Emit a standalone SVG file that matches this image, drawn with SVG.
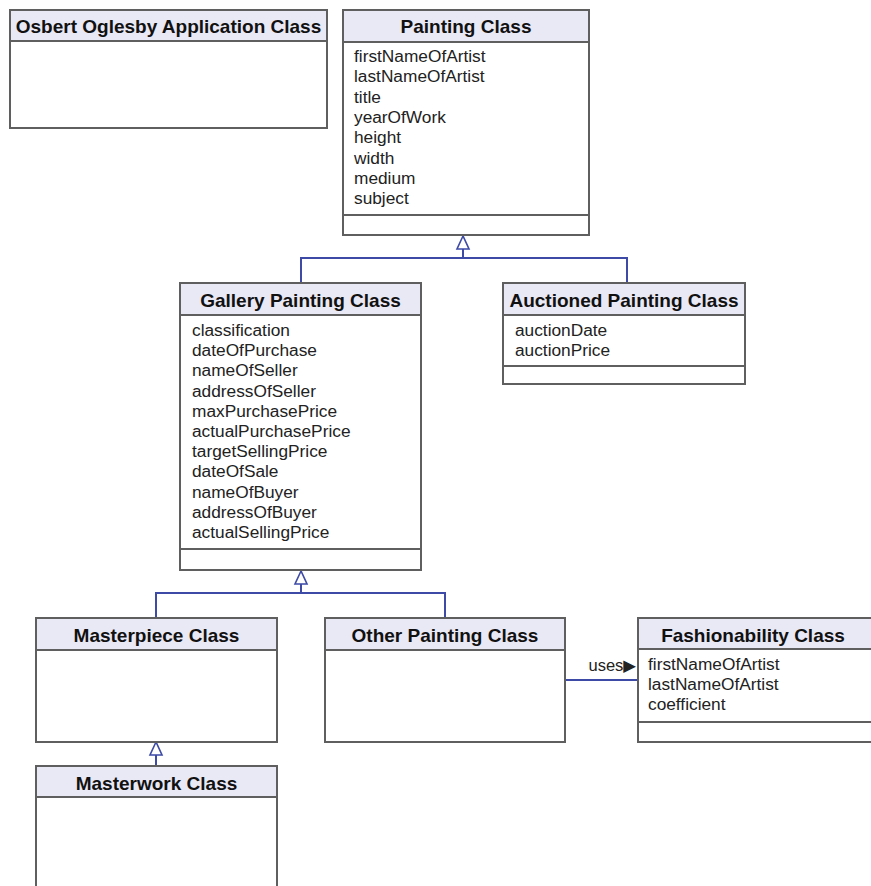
<svg xmlns="http://www.w3.org/2000/svg" width="871" height="886" viewBox="0 0 871 886">
<style>
.box{fill:#ffffff;stroke:#5f5f5f;stroke-width:2}
.hdr{fill:#e9e8f5;stroke:#5f5f5f;stroke-width:2}
.sep{stroke:#5f5f5f;stroke-width:2}
.title{font-family:"Liberation Sans",Arial,sans-serif;font-weight:bold;font-size:19px;fill:#111;text-anchor:middle}
.attr{font-family:"Liberation Sans",Arial,sans-serif;font-size:17.3px;fill:#222}
.conn{fill:none;stroke:#3d4aa6;stroke-width:2}
.tri{fill:#ffffff;stroke:#3d4aa6;stroke-width:1.6}
.lbl{font-family:"Liberation Sans","DejaVu Sans",sans-serif;font-size:16.5px;fill:#222;text-anchor:end}
</style>
<rect width="871" height="886" fill="#ffffff"/>

<g id="connectors">
  <polyline class="conn" points="301,283 301,258 627,258 627,283"/>
  <line class="conn" x1="463" y1="249" x2="463" y2="258"/>
  <polygon class="tri" points="463,236 457,249 469,249"/>
  <polyline class="conn" points="156,618 156,593 445,593 445,618"/>
  <line class="conn" x1="301" y1="584" x2="301" y2="593"/>
  <polygon class="tri" points="301,571 295,584 307,584"/>
  <line class="conn" x1="156" y1="755" x2="156" y2="766"/>
  <polygon class="tri" points="156,742 150,755 162,755"/>
  <line class="conn" x1="565" y1="680" x2="638" y2="680"/>
  <text class="lbl" x="636" y="671">uses▶</text>
</g>

<g id="osbert">
  <rect class="box" x="10" y="10" width="317" height="118"/>
  <rect class="hdr" x="10" y="10" width="317" height="31"/>
  <text class="title" x="168.5" y="33">Osbert Oglesby Application Class</text>
</g>

<g id="painting">
  <rect class="box" x="343" y="10" width="246" height="225"/>
  <rect class="hdr" x="343" y="10" width="246" height="32"/>
  <text class="title" x="466" y="33">Painting Class</text>
  <text class="attr" x="354" y="62">firstNameOfArtist</text>
  <text class="attr" x="354" y="82.3">lastNameOfArtist</text>
  <text class="attr" x="354" y="102.6">title</text>
  <text class="attr" x="354" y="122.9">yearOfWork</text>
  <text class="attr" x="354" y="143.2">height</text>
  <text class="attr" x="354" y="163.5">width</text>
  <text class="attr" x="354" y="183.8">medium</text>
  <text class="attr" x="354" y="204.1">subject</text>
  <line class="sep" x1="343" y1="215" x2="589" y2="215"/>
</g>

<g id="gallery">
  <rect class="box" x="180" y="283" width="241" height="287"/>
  <rect class="hdr" x="180" y="283" width="241" height="32"/>
  <text class="title" x="300.5" y="306.5">Gallery Painting Class</text>
  <text class="attr" x="192" y="336">classification</text>
  <text class="attr" x="192" y="356.2">dateOfPurchase</text>
  <text class="attr" x="192" y="376.4">nameOfSeller</text>
  <text class="attr" x="192" y="396.6">addressOfSeller</text>
  <text class="attr" x="192" y="416.8">maxPurchasePrice</text>
  <text class="attr" x="192" y="437">actualPurchasePrice</text>
  <text class="attr" x="192" y="457.2">targetSellingPrice</text>
  <text class="attr" x="192" y="477.4">dateOfSale</text>
  <text class="attr" x="192" y="497.6">nameOfBuyer</text>
  <text class="attr" x="192" y="517.8">addressOfBuyer</text>
  <text class="attr" x="192" y="538">actualSellingPrice</text>
  <line class="sep" x1="180" y1="549" x2="421" y2="549"/>
</g>

<g id="auctioned">
  <rect class="box" x="503" y="283" width="242" height="101"/>
  <rect class="hdr" x="503" y="283" width="242" height="32"/>
  <text class="title" x="624" y="306.5">Auctioned Painting Class</text>
  <text class="attr" x="515" y="336">auctionDate</text>
  <text class="attr" x="515" y="356.2">auctionPrice</text>
  <line class="sep" x1="503" y1="366" x2="745" y2="366"/>
</g>

<g id="masterpiece">
  <rect class="box" x="36" y="618" width="241" height="124"/>
  <rect class="hdr" x="36" y="618" width="241" height="32"/>
  <text class="title" x="156.5" y="641.5">Masterpiece Class</text>
</g>

<g id="other">
  <rect class="box" x="325" y="618" width="240" height="124"/>
  <rect class="hdr" x="325" y="618" width="240" height="32"/>
  <text class="title" x="445" y="641.5">Other Painting Class</text>
</g>

<g id="fashionability">
  <rect class="box" x="638" y="618" width="240" height="124"/>
  <rect class="hdr" x="638" y="618" width="240" height="31"/>
  <text class="title" x="753" y="641.5">Fashionability Class</text>
  <text class="attr" x="648" y="670">firstNameOfArtist</text>
  <text class="attr" x="648" y="690.2">lastNameOfArtist</text>
  <text class="attr" x="648" y="710.4">coefficient</text>
  <line class="sep" x1="638" y1="722" x2="878" y2="722"/>
</g>

<g id="masterwork">
  <rect class="box" x="36" y="766" width="241" height="130"/>
  <rect class="hdr" x="36" y="766" width="241" height="31"/>
  <text class="title" x="156.5" y="789.5">Masterwork Class</text>
</g>
</svg>
